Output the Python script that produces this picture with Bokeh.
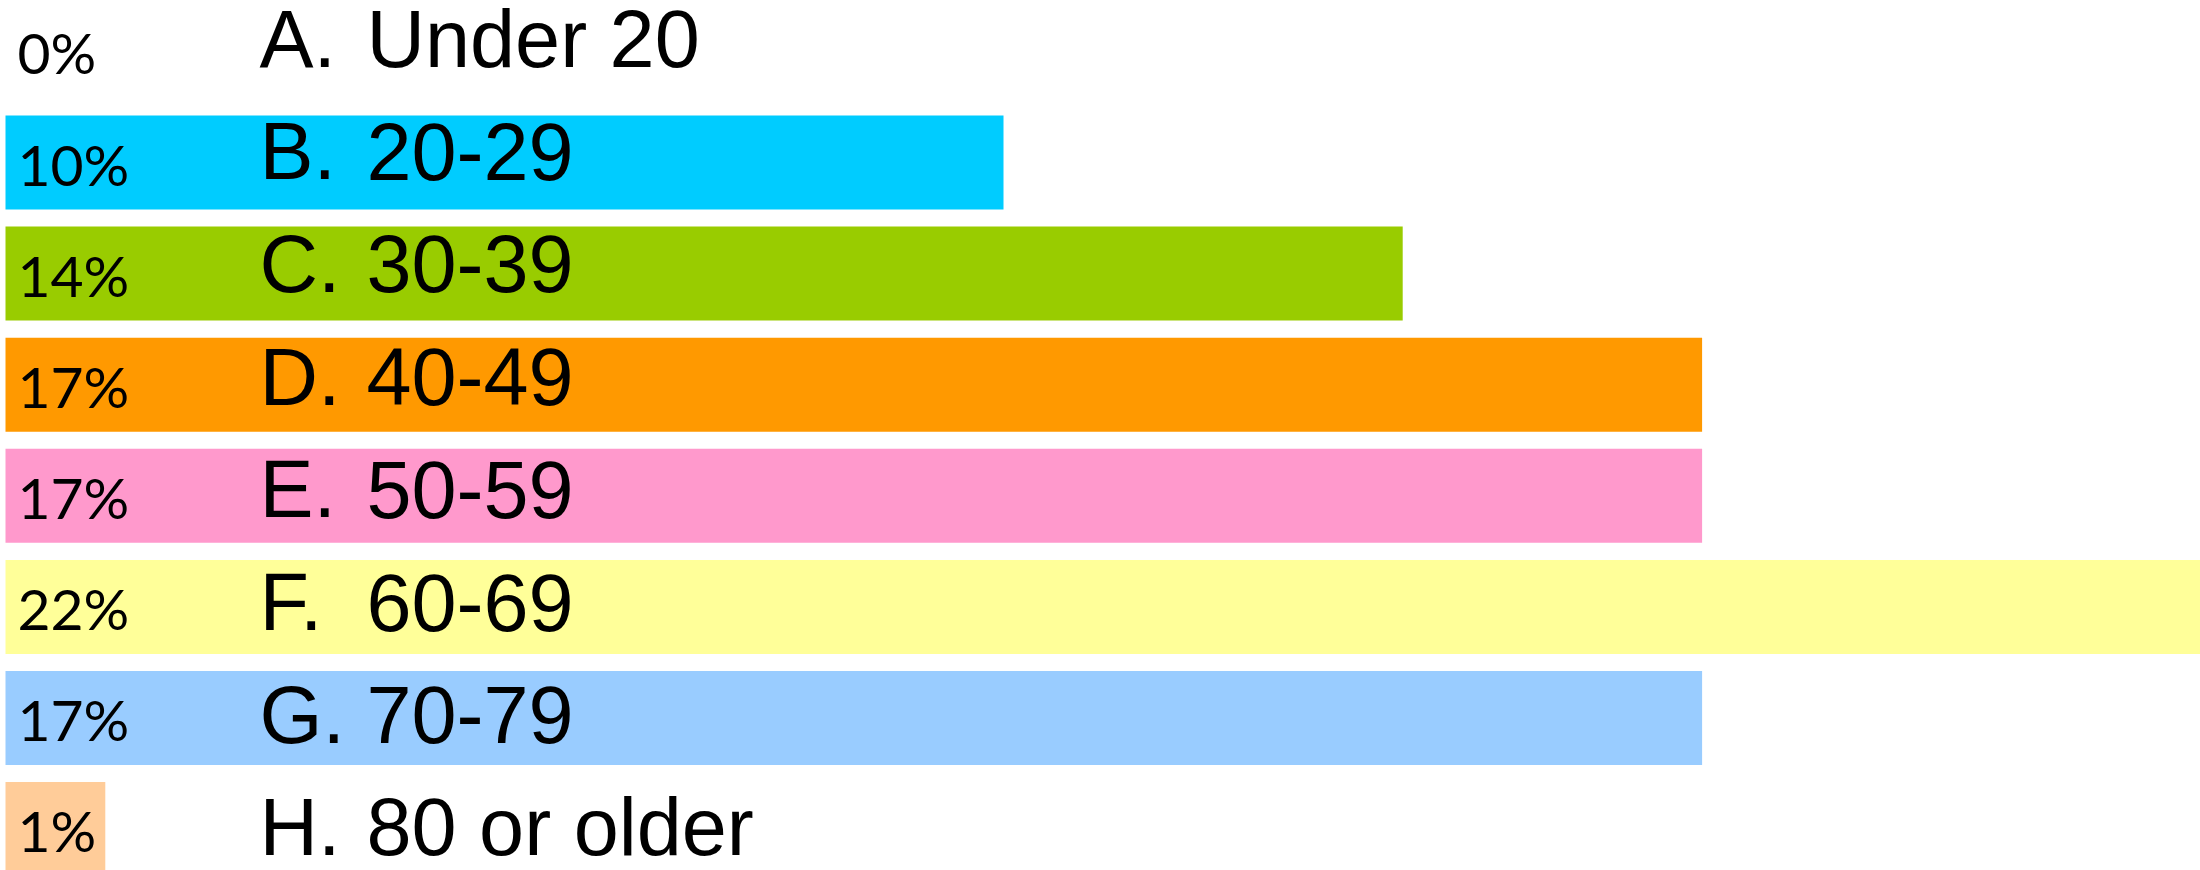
from bokeh.plotting import figure
from bokeh.models import Range1d, ColumnDataSource
from bokeh.core.properties import value
from bokeh.embed import file_html
from bokeh.resources import INLINE

# ---- data ----
letters = ["A.", "B.", "C.", "D.", "E.", "F.", "G.", "H."]
age_groups = ["Under 20", "20-29", "30-39", "40-49", "50-59", "60-69", "70-79", "80 or older"]
percent = [0, 10, 14, 17, 17, 22, 17, 1]
colors = ["#3366FF", "#00CCFF", "#99CC00", "#FF9900", "#FF99CC", "#FFFF99", "#99CCFF", "#FFCC99"]

rows = list(range(len(letters)))
pct_labels = [f"{v}%" for v in percent]

src = ColumnDataSource(dict(row=rows, pct=percent, color=colors, letter=letters,
                            group=age_groups, pct_label=pct_labels, zero=[0] * len(rows)))

# ---- layout (pixels, relative to the figure's top-left) ----
W, H = 2200, 870
x0_px, px_per_unit = 5.0, 99.8          # bar origin and scale
row0_px, row_pitch = 50.9, 111.1        # bar rows
lab0_px, lab_pitch = 38.0, 112.7        # label rows

p = figure(width=W, height=H, output_backend="svg", toolbar_location=None,
           x_axis_location=None, y_axis_location=None,
           x_range=Range1d(-x0_px / px_per_unit, (W - x0_px) / px_per_unit),
           y_range=Range1d((H - row0_px) / row_pitch, -row0_px / row_pitch),
           min_border=0, outline_line_color=None, background_fill_color="white",
           border_fill_color="white")
p.xgrid.visible = False
p.ygrid.visible = False
p.extra_y_ranges = {"lab": Range1d((H - lab0_px) / lab_pitch, -lab0_px / lab_pitch)}

p.hbar(y="row", left="zero", right="pct", height=94 / row_pitch, fill_color="color",
       line_color=None, source=src)

p.text(x="zero", y="row", text="pct_label", source=src, x_offset=12, y_offset=1,
       text_font=value("Lato"), text_font_size="57px", text_color="black",
       text_baseline="alphabetic", text_align="left")

p.text(x="zero", y="row", text="letter", source=src, x_offset=254, y_range_name="lab",
       text_font=value("Liberation Sans"), text_font_size="81px", text_color="black",
       text_baseline="alphabetic", text_align="left")

p.text(x="zero", y="row", text="group", source=src, x_offset=361, y_range_name="lab",
       text_font=value("Liberation Sans"), text_font_size="81px", text_color="black",
       text_baseline="alphabetic", text_align="left")

open("out.html", "w").write(file_html(p, INLINE))
